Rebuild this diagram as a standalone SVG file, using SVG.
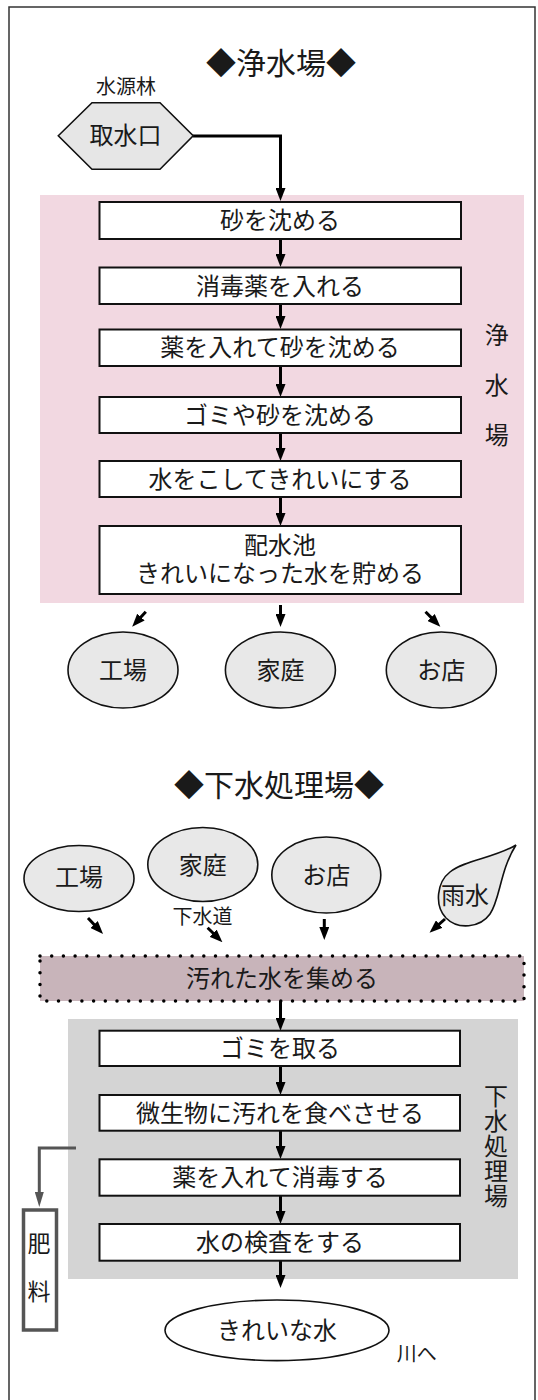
<svg xmlns="http://www.w3.org/2000/svg" width="538" height="1400" viewBox="0 0 538 1400">
<defs>
<style>
text{font-family:"Noto Sans CJK JP","Noto Sans",sans-serif;fill:#1a1a1a;text-anchor:middle}
.t24{font-size:24px}
.t30{font-size:30px}
.t20{font-size:20px}
.vt{writing-mode:vertical-rl;text-anchor:start}
.box{fill:#fff;stroke:#111;stroke-width:2}
.ell{fill:#e8e8e8;stroke:#111;stroke-width:1.6}
.arr{fill:none;stroke:#000;stroke-width:3;marker-end:url(#ah)}
.arrg{fill:none;stroke:#555;stroke-width:3;marker-end:url(#ahg)}
</style>
<marker id="ah" viewBox="0 0 13 10" refX="3" refY="5" markerWidth="13" markerHeight="10" markerUnits="userSpaceOnUse" orient="auto"><path d="M0,0 L13,5 L0,10 Z" fill="#000"/></marker>
<marker id="ahg" viewBox="0 0 15 9" refX="3" refY="4.5" markerWidth="15" markerHeight="9" markerUnits="userSpaceOnUse" orient="auto"><path d="M0,0 L15,4.5 L0,9 Z" fill="#555"/></marker>
</defs>

<path d="M9,1410 V7 H535 V1410" fill="none" stroke="#333" stroke-width="1.5"/>

<g id="areas">
<rect x="40" y="195" width="484" height="408" fill="#f2d8e1"/>
<rect x="68" y="1019" width="450" height="260" fill="#d4d4d4"/>
</g>

<g id="titles">
<text class="t30" x="281" y="74">◆浄水場◆</text>
<text class="t30" x="279" y="796">◆下水処理場◆</text>
</g>

<g id="connectors">
<path class="arr" d="M193,136 H280.5 V191"/>
<path class="arr" d="M280.5,239 V257"/>
<path class="arr" d="M280.5,304 V319"/>
<path class="arr" d="M280.5,366 V387"/>
<path class="arr" d="M280.5,433 V451"/>
<path class="arr" d="M280.5,497 V516"/>
<path class="arr" d="M145.8,611.7 L138.9,619.3"/>
<path class="arr" d="M280.5,605 V617"/>
<path class="arr" d="M425.5,611.7 L433.3,619.6"/>
<path class="arr" d="M88,918 L96.2,926.7"/>
<path class="arr" d="M207.6,927.7 L215.3,935.3"/>
<path class="arr" d="M324.3,919 V930"/>
<path class="arr" d="M445,919 L437,926.1"/>
<path class="arr" d="M280.5,1001 V1020.7"/>
<path class="arr" d="M280.5,1066 V1085"/>
<path class="arr" d="M280.5,1131 V1149"/>
<path class="arr" d="M280.5,1196 V1214"/>
<path class="arr" d="M280.5,1261 V1278"/>
<path class="arrg" d="M76,1148 H39.3 V1195"/>
</g>

<g id="suigenrin"><text class="t20" x="126" y="94">水源林</text></g>
<g id="shusuiguchi">
<polygon points="58.3,135.7 92,102.7 160,102.7 193.2,135.7 160,169.3 92,169.3" fill="#e6e6e6" stroke="#111" stroke-width="1.6"/>
<text class="t24" x="125.6" y="144.4">取水口</text>
</g>

<g id="s1">
<rect class="box" x="99.5" y="202" width="361.5" height="37"/>
<text class="t24" x="280" y="229">砂を沈める</text>
</g>
<g id="s2">
<rect class="box" x="99.5" y="267.5" width="361.5" height="36.5"/>
<text class="t24" x="280" y="294.6">消毒薬を入れる</text>
</g>
<g id="s3">
<rect class="box" x="99.5" y="329.5" width="361.5" height="36.5"/>
<text class="t24" x="280" y="356">薬を入れて砂を沈める</text>
</g>
<g id="s4">
<rect class="box" x="99.5" y="397" width="361.5" height="36"/>
<text class="t24" x="280" y="423.6">ゴミや砂を沈める</text>
</g>
<g id="s5">
<rect class="box" x="99.5" y="461" width="361.5" height="36"/>
<text class="t24" x="280" y="487.6">水をこしてきれいにする</text>
</g>
<g id="s6">
<rect class="box" x="99.5" y="526" width="361.5" height="68"/>
<text class="t24"><tspan x="280" y="553.6">配水池</tspan><tspan x="280" y="582">きれいになった水を貯める</tspan></text>
</g>
<g id="label-josuijo">
<text class="t24 vt" x="496.7" y="323" style="letter-spacing:26px">浄水場</text>
</g>

<g id="u1"><ellipse class="ell" cx="123" cy="670" rx="55" ry="38"/><text class="t24" x="123" y="678.6">工場</text></g>
<g id="u2"><ellipse class="ell" cx="280.4" cy="670" rx="55" ry="38"/><text class="t24" x="280.4" y="678.6">家庭</text></g>
<g id="u3"><ellipse class="ell" cx="441.3" cy="670" rx="55" ry="38"/><text class="t24" x="441.3" y="678.6">お店</text></g>

<g id="d1"><ellipse class="ell" cx="79" cy="878.5" rx="55" ry="33"/><text class="t24" x="79" y="885.6">工場</text></g>
<g id="d2"><ellipse class="ell" cx="202.8" cy="864.5" rx="55" ry="37"/><text class="t24" x="202.8" y="873.6">家庭</text></g>
<g id="d3"><ellipse class="ell" cx="326.3" cy="875" rx="54.5" ry="38"/><text class="t24" x="326.3" y="883.6">お店</text></g>
<g id="d4">
<path d="M516,845 C495,858 465,860 450,872 C437,882 434,905 446,918 C458,930 480,928 490,914 C500,900 500,870 516,845 Z" fill="#e8e8e8" stroke="#111" stroke-width="1.6"/>
<text class="t24" x="465" y="903.6">雨水</text>
</g>
<g id="gesuido"><text class="t20" x="202.5" y="924">下水道</text></g>

<g id="collect">
<rect x="40" y="956" width="484" height="45" fill="#c8b4ba"/>
<rect x="40" y="956" width="484" height="45" fill="none" stroke="#000" stroke-width="3.5" stroke-dasharray="0 11.7" stroke-linecap="round"/>
<text class="t24" x="282" y="986.6">汚れた水を集める</text>
</g>

<g id="g1">
<rect class="box" x="99.5" y="1030.7" width="360.5" height="35.3"/>
<text class="t24" x="280" y="1057">ゴミを取る</text>
</g>
<g id="g2">
<rect class="box" x="99.5" y="1095" width="360.5" height="35.7"/>
<text class="t24" x="280" y="1121.5">微生物に汚れを食べさせる</text>
</g>
<g id="g3">
<rect class="box" x="99.5" y="1159.3" width="360.5" height="36.4"/>
<text class="t24" x="280" y="1186.1">薬を入れて消毒する</text>
</g>
<g id="g4">
<rect class="box" x="99.5" y="1224" width="360.5" height="36.7"/>
<text class="t24" x="280" y="1251">水の検査をする</text>
</g>
<g id="label-gesuishorijo">
<text class="t24 vt" x="496" y="1083.5" style="letter-spacing:1.1px">下水処理場</text>
</g>

<g id="hiryo">
<rect x="23.5" y="1210" width="33" height="120" fill="#fff" stroke="#555" stroke-width="3.5"/>
<text class="vt" x="39" y="1231.8" style="font-size:23px;letter-spacing:25.4px">肥料</text>
</g>

<g id="kireinamizu">
<ellipse cx="277" cy="1330.3" rx="112" ry="30.3" fill="#fff" stroke="#111" stroke-width="1.6"/>
<text class="t24" x="277" y="1338.6">きれいな水</text>
</g>
<g id="kawae"><text class="t20" x="416.7" y="1360.5">川へ</text></g>
</svg>
